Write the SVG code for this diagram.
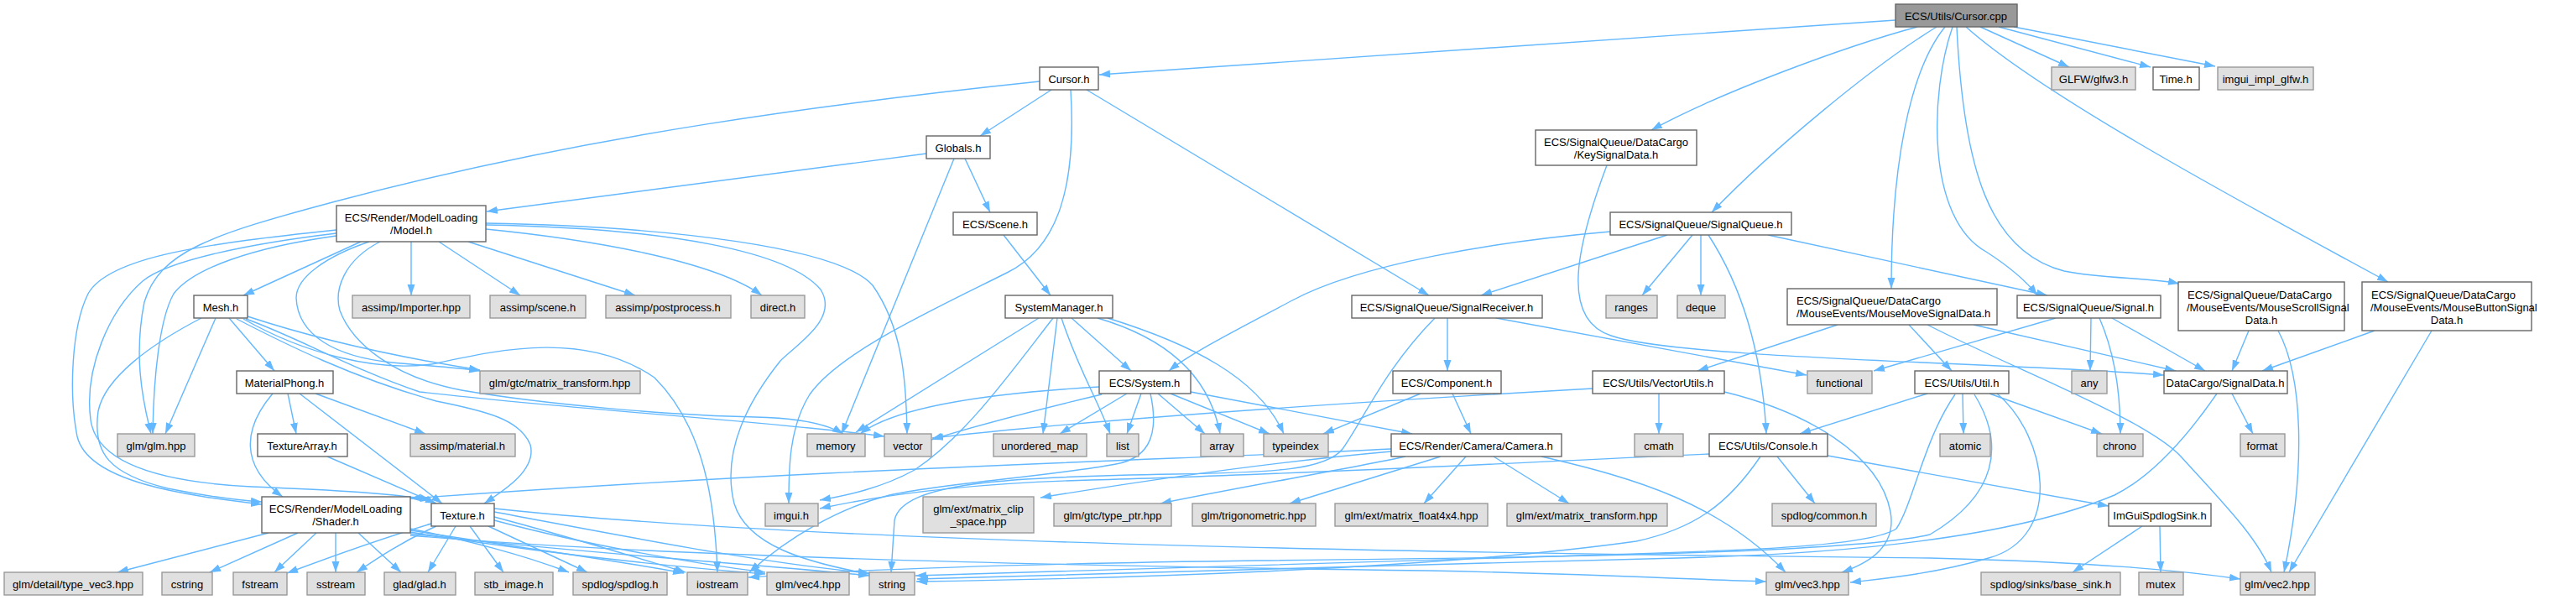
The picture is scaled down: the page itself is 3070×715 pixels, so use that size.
<svg xmlns="http://www.w3.org/2000/svg" width="3070" height="715" viewBox="0 0 3070 715">
<defs>
<marker id="ah" markerWidth="14" markerHeight="10" refX="13" refY="4.5" orient="auto" markerUnits="userSpaceOnUse"><path d="M0,0 L13,4.5 L0,9 z" fill="#63b8ff"/></marker>
</defs>
<style>
.e{fill:none;stroke:#63b8ff;stroke-width:1.4;marker-end:url(#ah)}
.w{fill:#ffffff;stroke:#666666;stroke-width:1.4}
.g{fill:#e0e0e0;stroke:#999999;stroke-width:1.4}
.d{fill:#999999;stroke:#666666;stroke-width:1.4}
text{font-family:"Liberation Sans",Arial,sans-serif;font-size:13px;fill:#000;text-anchor:middle}
.l{text-anchor:start}
</style>
<rect x="0" y="0" width="3070" height="715" fill="#ffffff"/>
<g id="edges">
<path class="e" d="M2259,24 L1310,89"/>
<path class="e" d="M2285,32 C2200,55 2050,110 1968,155"/>
<path class="e" d="M2308,32 C2230,80 2110,180 2040,253"/>
<path class="e" d="M2318,32 C2275,85 2254,200 2254,344"/>
<path class="e" d="M2327,32 C2300,110 2295,260 2367,300 C2395,318 2415,335 2428,352"/>
<path class="e" d="M2332,32 C2340,200 2370,300 2460,323 C2510,333 2560,330 2597,338"/>
<path class="e" d="M2343,32 C2430,110 2650,230 2846,336"/>
<path class="e" d="M2360,32 L2466,80"/>
<path class="e" d="M2382,32 L2563,80"/>
<path class="e" d="M2400,32 L2640,79"/>
<path class="e" d="M1253,107 L1168,162"/>
<path class="e" d="M1295,107 L1703,352"/>
<path class="e" d="M1276,107 C1283,220 1262,295 1200,325 C1110,370 1000,420 965,470 C940,510 940,560 940,600"/>
<path class="e" d="M1239,97 C1000,122 700,160 400,240 C250,280 190,300 172,360 C160,420 168,470 180,517"/>
<path class="e" d="M1104,183 L580,252"/>
<path class="e" d="M1137,189 L1003,517"/>
<path class="e" d="M1150,189 L1180,253"/>
<path class="e" d="M1196,280 L1252,352"/>
<path class="e" d="M1915,197 C1880,290 1858,380 1920,400 C2000,428 2400,432 2579,447"/>
<path class="e" d="M1987,280 L1765,352"/>
<path class="e" d="M2017,280 L1957,352"/>
<path class="e" d="M2027,280 L2027,352"/>
<path class="e" d="M2036,280 C2075,340 2100,420 2105,517"/>
<path class="e" d="M2107,280 L2440,352"/>
<path class="e" d="M1919,276 C1780,288 1620,315 1540,358 C1480,390 1420,420 1393,442"/>
<path class="e" d="M1725,379 L1725,442"/>
<path class="e" d="M1783,379 L2153,447"/>
<path class="e" d="M1710,379 C1650,440 1625,500 1600,535 C1580,560 1520,563 1400,565 C1200,568 1075,575 1066,620 L1062,682"/>
<path class="e" d="M2450,379 L2233,442"/>
<path class="e" d="M2492,379 L2491,442"/>
<path class="e" d="M2502,379 C2520,420 2527,470 2527,517"/>
<path class="e" d="M2517,379 L2628,442"/>
<path class="e" d="M2190,387 L2023,442"/>
<path class="e" d="M2275,387 L2326,442"/>
<path class="e" d="M2352,387 L2593,442"/>
<path class="e" d="M2297,387 C2400,440 2560,500 2600,545 C2650,600 2690,640 2707,682"/>
<path class="e" d="M2680,394 L2660,442"/>
<path class="e" d="M2715,394 C2745,450 2748,560 2722,682"/>
<path class="e" d="M2830,394 L2696,442"/>
<path class="e" d="M2898,394 L2728,682"/>
<path class="e" d="M430,288 L290,352"/>
<path class="e" d="M490,288 L490,352"/>
<path class="e" d="M523,288 L620,352"/>
<path class="e" d="M558,288 L757,352"/>
<path class="e" d="M579,273 C700,285 850,310 908,352"/>
<path class="e" d="M579,268 C800,272 940,300 978,345 C1000,380 950,410 930,430 C890,480 860,540 875,600 C890,650 960,670 1036,684"/>
<path class="e" d="M579,266 C800,270 1000,295 1040,340 C1075,390 1080,450 1081,517"/>
<path class="e" d="M401,274 C250,290 130,305 105,350 C85,390 82,470 92,520 C105,575 220,590 312,601"/>
<path class="e" d="M401,278 C300,290 200,310 170,335 C130,370 100,440 108,500 C115,555 200,575 300,580 C400,584 470,588 514,596"/>
<path class="e" d="M401,281 C300,295 230,320 207,350 C190,380 183,450 182,517"/>
<path class="e" d="M440,288 C390,305 353,330 353,355 C355,400 400,425 467,432 C510,436 545,438 572,442"/>
<path class="e" d="M453,288 C410,310 398,345 405,370 C420,410 470,450 550,465 C650,482 800,495 900,497 C950,498 985,505 1005,517"/>
<path class="e" d="M257,379 L197,517"/>
<path class="e" d="M273,379 L327,442"/>
<path class="e" d="M240,379 C180,410 125,450 117,490 C110,540 130,565 200,582 C240,590 280,596 312,598"/>
<path class="e" d="M295,377 C380,405 470,425 572,441"/>
<path class="e" d="M282,380 C340,410 420,450 520,478 C580,490 620,500 632,530 C640,560 600,585 577,600"/>
<path class="e" d="M290,380 C360,420 450,445 520,433 C600,415 700,395 780,450 C840,510 852,600 855,682"/>
<path class="e" d="M293,380 C350,400 420,440 500,467 C700,490 900,500 1054,520"/>
<path class="e" d="M343,469 L353,517"/>
<path class="e" d="M376,469 L507,517"/>
<path class="e" d="M325,469 C290,510 285,555 337,592"/>
<path class="e" d="M357,469 L527,600"/>
<path class="e" d="M390,544 L520,600"/>
<path class="e" d="M1310,461 C1150,470 1060,490 1025,517"/>
<path class="e" d="M1313,470 C1250,485 1170,505 1110,524"/>
<path class="e" d="M1343,469 L1263,517"/>
<path class="e" d="M1360,469 L1343,517"/>
<path class="e" d="M1380,469 L1436,517"/>
<path class="e" d="M1395,469 L1513,517"/>
<path class="e" d="M1419,467 L1683,517"/>
<path class="e" d="M1371,469 C1380,510 1375,545 1330,553 C1250,568 1130,575 1060,590 C1000,605 940,640 893,682"/>
<path class="e" d="M1238,379 L1020,515"/>
<path class="e" d="M1255,379 C1200,450 1150,520 1090,560 C1050,582 1010,590 977,596"/>
<path class="e" d="M1260,379 L1243,517"/>
<path class="e" d="M1265,379 C1285,440 1310,480 1323,517"/>
<path class="e" d="M1277,379 L1348,442"/>
<path class="e" d="M1308,379 C1380,400 1440,440 1454,517"/>
<path class="e" d="M1320,379 C1420,410 1500,450 1530,517"/>
<path class="e" d="M1693,469 L1577,517"/>
<path class="e" d="M1731,469 L1753,517"/>
<path class="e" d="M1658,538 C1500,552 1350,575 1240,593"/>
<path class="e" d="M1675,544 C1600,560 1480,580 1383,600"/>
<path class="e" d="M1717,544 L1537,600"/>
<path class="e" d="M1747,544 L1697,600"/>
<path class="e" d="M1780,544 L1870,600"/>
<path class="e" d="M1837,544 C1950,570 2050,600 2128,682"/>
<path class="e" d="M1658,535 C1400,548 1000,557 489,594"/>
<path class="e" d="M2037,541 C1800,552 1500,567 1300,572 C1150,576 1050,590 977,606"/>
<path class="e" d="M2118,544 L2163,600"/>
<path class="e" d="M2178,543 L2513,603"/>
<path class="e" d="M2098,544 C2060,600 2020,630 1950,645 C1700,680 1300,690 1092,693"/>
<path class="e" d="M1898,463 C1600,480 1300,500 1111,522"/>
<path class="e" d="M1977,469 L1977,517"/>
<path class="e" d="M2055,467 C2150,490 2240,540 2253,610 C2260,650 2230,670 2195,682"/>
<path class="e" d="M2297,469 L2145,517"/>
<path class="e" d="M2339,469 L2340,517"/>
<path class="e" d="M2371,469 L2505,517"/>
<path class="e" d="M2380,469 C2440,520 2460,640 2370,665 C2300,685 2240,690 2205,694"/>
<path class="e" d="M2330,470 C2293,523 2280,600 2260,630 C2230,650 2100,655 1950,660 C1600,670 1300,680 1091,686"/>
<path class="e" d="M2353,470 C2390,530 2380,590 2300,637 C2200,660 1800,665 1500,668 C1200,672 1000,680 892,688"/>
<path class="e" d="M2660,469 L2685,517"/>
<path class="e" d="M2642,469 C2600,530 2560,570 2520,590 C2400,640 2200,660 2000,665 C1700,672 1300,685 1093,690"/>
<path class="e" d="M2574,627 L2575,682"/>
<path class="e" d="M2553,627 L2470,682"/>
<path class="e" d="M320,635 L140,682"/>
<path class="e" d="M355,635 L250,682"/>
<path class="e" d="M377,635 L327,682"/>
<path class="e" d="M400,635 L400,682"/>
<path class="e" d="M427,635 L478,682"/>
<path class="e" d="M489,630 C560,645 620,660 678,682"/>
<path class="e" d="M489,632 C600,650 720,665 815,683"/>
<path class="e" d="M489,634 C650,660 800,675 912,684"/>
<path class="e" d="M489,636 C700,660 900,672 1036,686"/>
<path class="e" d="M489,638 C800,665 1300,675 1700,680 C1900,684 2000,690 2105,693"/>
<path class="e" d="M543,627 L510,682"/>
<path class="e" d="M560,627 L600,682"/>
<path class="e" d="M582,627 L700,682"/>
<path class="e" d="M514,624 C460,640 390,665 342,683"/>
<path class="e" d="M520,627 C480,645 450,665 425,682"/>
<path class="e" d="M589,616 C680,640 760,665 817,682"/>
<path class="e" d="M589,610 C750,640 900,670 1036,683"/>
<path class="e" d="M589,606 C1000,650 1800,660 2300,665 C2500,670 2600,680 2670,690"/>
<path class="e" d="M589,620 C700,650 830,672 912,682"/>
</g>
<g id="n_cpp"><rect class="d" x="2259" y="5" width="145" height="27"/><text x="2331" y="24">ECS/Utils/Cursor.cpp</text></g>
<g id="n_cursorh"><rect class="w" x="1239" y="80" width="70" height="27"/><text x="1274" y="99">Cursor.h</text></g>
<g id="n_glfw"><rect class="g" x="2445" y="80" width="100" height="27"/><text x="2495" y="99">GLFW/glfw3.h</text></g>
<g id="n_time"><rect class="w" x="2566" y="80" width="55" height="27"/><text x="2593" y="99">Time.h</text></g>
<g id="n_imguiimpl"><rect class="g" x="2643" y="80" width="114" height="27"/><text x="2700" y="99">imgui_impl_glfw.h</text></g>
<g id="n_globals"><rect class="w" x="1104" y="162" width="76" height="27"/><text x="1142" y="181">Globals.h</text></g>
<g id="n_keysig"><rect class="w" x="1830" y="155" width="192" height="42"/><text x="1926" y="174">ECS/SignalQueue/DataCargo</text><text x="1926" y="189">/KeySignalData.h</text></g>
<g id="n_model"><rect class="w" x="401" y="245" width="178" height="43"/><text x="490" y="264">ECS/Render/ModelLoading</text><text x="490" y="279">/Model.h</text></g>
<g id="n_scene"><rect class="w" x="1136" y="253" width="100" height="27"/><text x="1186" y="272">ECS/Scene.h</text></g>
<g id="n_sigqueue"><rect class="w" x="1919" y="253" width="216" height="27"/><text x="2027" y="272">ECS/SignalQueue/SignalQueue.h</text></g>
<g id="n_mesh"><rect class="w" x="231" y="352" width="64" height="27"/><text x="263" y="371">Mesh.h</text></g>
<g id="n_importer"><rect class="g" x="420" y="352" width="140" height="27"/><text x="490" y="371">assimp/Importer.hpp</text></g>
<g id="n_ascene"><rect class="g" x="584" y="352" width="114" height="27"/><text x="641" y="371">assimp/scene.h</text></g>
<g id="n_postproc"><rect class="g" x="722" y="352" width="149" height="27"/><text x="796" y="371">assimp/postprocess.h</text></g>
<g id="n_direct"><rect class="g" x="895" y="352" width="64" height="27"/><text x="927" y="371">direct.h</text></g>
<g id="n_sysmgr"><rect class="w" x="1198" y="352" width="128" height="27"/><text x="1262" y="371">SystemManager.h</text></g>
<g id="n_sigrecv"><rect class="w" x="1611" y="352" width="227" height="27"/><text x="1724" y="371">ECS/SignalQueue/SignalReceiver.h</text></g>
<g id="n_ranges"><rect class="g" x="1914" y="352" width="61" height="27"/><text x="1944" y="371">ranges</text></g>
<g id="n_deque"><rect class="g" x="1999" y="352" width="57" height="27"/><text x="2027" y="371">deque</text></g>
<g id="n_mousemove"><rect class="w" x="2130" y="344" width="250" height="43"/><text class="l" x="2141" y="363">ECS/SignalQueue/DataCargo</text><text class="l" x="2141" y="378">/MouseEvents/MouseMoveSignalData.h</text></g>
<g id="n_signal"><rect class="w" x="2404" y="352" width="171" height="27"/><text x="2489" y="371">ECS/SignalQueue/Signal.h</text></g>
<g id="n_mousescroll"><rect class="w" x="2596" y="336" width="198" height="58"/><text class="l" x="2607" y="356">ECS/SignalQueue/DataCargo</text><text class="l" x="2606" y="371">/MouseEvents/MouseScrollSignal</text><text x="2695" y="386">Data.h</text></g>
<g id="n_mousebutton"><rect class="w" x="2815" y="336" width="202" height="58"/><text class="l" x="2826" y="356">ECS/SignalQueue/DataCargo</text><text class="l" x="2825" y="371">/MouseEvents/MouseButtonSignal</text><text x="2916" y="386">Data.h</text></g>
<g id="n_material"><rect class="w" x="282" y="442" width="115" height="27"/><text x="339" y="461">MaterialPhong.h</text></g>
<g id="n_gtcmat"><rect class="g" x="572" y="442" width="191" height="27"/><text x="667" y="461">glm/gtc/matrix_transform.hpp</text></g>
<g id="n_system"><rect class="w" x="1310" y="442" width="109" height="27"/><text x="1364" y="461">ECS/System.h</text></g>
<g id="n_component"><rect class="w" x="1660" y="442" width="129" height="27"/><text x="1724" y="461">ECS/Component.h</text></g>
<g id="n_vecutils"><rect class="w" x="1898" y="442" width="157" height="27"/><text x="1976" y="461">ECS/Utils/VectorUtils.h</text></g>
<g id="n_functional"><rect class="g" x="2154" y="442" width="77" height="27"/><text x="2192" y="461">functional</text></g>
<g id="n_util"><rect class="w" x="2282" y="442" width="112" height="27"/><text x="2338" y="461">ECS/Utils/Util.h</text></g>
<g id="n_any"><rect class="g" x="2469" y="442" width="42" height="27"/><text x="2490" y="461">any</text></g>
<g id="n_sigdata"><rect class="w" x="2579" y="442" width="147" height="27"/><text x="2652" y="461">DataCargo/SignalData.h</text></g>
<g id="n_glmhpp"><rect class="g" x="140" y="517" width="92" height="27"/><text x="186" y="536">glm/glm.hpp</text></g>
<g id="n_texarray"><rect class="w" x="307" y="517" width="107" height="27"/><text x="360" y="536">TextureArray.h</text></g>
<g id="n_assmat"><rect class="g" x="489" y="517" width="125" height="27"/><text x="551" y="536">assimp/material.h</text></g>
<g id="n_memory"><rect class="g" x="962" y="517" width="69" height="27"/><text x="996" y="536">memory</text></g>
<g id="n_vector"><rect class="g" x="1054" y="517" width="56" height="27"/><text x="1082" y="536">vector</text></g>
<g id="n_umap"><rect class="g" x="1184" y="517" width="111" height="27"/><text x="1239" y="536">unordered_map</text></g>
<g id="n_list"><rect class="g" x="1319" y="517" width="38" height="27"/><text x="1338" y="536">list</text></g>
<g id="n_array"><rect class="g" x="1431" y="517" width="51" height="27"/><text x="1456" y="536">array</text></g>
<g id="n_typeindex"><rect class="g" x="1506" y="517" width="77" height="27"/><text x="1544" y="536">typeindex</text></g>
<g id="n_camera"><rect class="w" x="1658" y="517" width="203" height="27"/><text x="1759" y="536">ECS/Render/Camera/Camera.h</text></g>
<g id="n_cmath"><rect class="g" x="1948" y="517" width="58" height="27"/><text x="1977" y="536">cmath</text></g>
<g id="n_console"><rect class="w" x="2037" y="517" width="141" height="27"/><text x="2107" y="536">ECS/Utils/Console.h</text></g>
<g id="n_atomic"><rect class="g" x="2312" y="517" width="60" height="27"/><text x="2342" y="536">atomic</text></g>
<g id="n_chrono"><rect class="g" x="2499" y="517" width="55" height="27"/><text x="2526" y="536">chrono</text></g>
<g id="n_format"><rect class="g" x="2670" y="517" width="53" height="27"/><text x="2696" y="536">format</text></g>
<g id="n_shader"><rect class="w" x="312" y="592" width="177" height="43"/><text x="400" y="611">ECS/Render/ModelLoading</text><text x="400" y="626">/Shader.h</text></g>
<g id="n_texture"><rect class="w" x="514" y="600" width="75" height="27"/><text x="551" y="619">Texture.h</text></g>
<g id="n_imgui"><rect class="g" x="912" y="600" width="63" height="27"/><text x="943" y="619">imgui.h</text></g>
<g id="n_clipspace"><rect class="g" x="1100" y="592" width="132" height="43"/><text x="1166" y="611">glm/ext/matrix_clip</text><text x="1166" y="626">_space.hpp</text></g>
<g id="n_typeptr"><rect class="g" x="1256" y="600" width="140" height="27"/><text x="1326" y="619">glm/gtc/type_ptr.hpp</text></g>
<g id="n_trig"><rect class="g" x="1421" y="600" width="147" height="27"/><text x="1494" y="619">glm/trigonometric.hpp</text></g>
<g id="n_float4x4"><rect class="g" x="1591" y="600" width="182" height="27"/><text x="1682" y="619">glm/ext/matrix_float4x4.hpp</text></g>
<g id="n_exttransform"><rect class="g" x="1796" y="600" width="191" height="27"/><text x="1891" y="619">glm/ext/matrix_transform.hpp</text></g>
<g id="n_spdcommon"><rect class="g" x="2112" y="600" width="124" height="27"/><text x="2174" y="619">spdlog/common.h</text></g>
<g id="n_imguisink"><rect class="w" x="2513" y="600" width="122" height="27"/><text x="2574" y="619">ImGuiSpdlogSink.h</text></g>
<g id="n_typevec3"><rect class="g" x="5" y="682" width="165" height="27"/><text x="87" y="701">glm/detail/type_vec3.hpp</text></g>
<g id="n_cstring"><rect class="g" x="193" y="682" width="60" height="27"/><text x="223" y="701">cstring</text></g>
<g id="n_fstream"><rect class="g" x="278" y="682" width="64" height="27"/><text x="310" y="701">fstream</text></g>
<g id="n_sstream"><rect class="g" x="366" y="682" width="69" height="27"/><text x="400" y="701">sstream</text></g>
<g id="n_glad"><rect class="g" x="458" y="682" width="85" height="27"/><text x="500" y="701">glad/glad.h</text></g>
<g id="n_stb"><rect class="g" x="566" y="682" width="93" height="27"/><text x="612" y="701">stb_image.h</text></g>
<g id="n_spdlog"><rect class="g" x="683" y="682" width="112" height="27"/><text x="739" y="701">spdlog/spdlog.h</text></g>
<g id="n_iostream"><rect class="g" x="819" y="682" width="72" height="27"/><text x="855" y="701">iostream</text></g>
<g id="n_vec4"><rect class="g" x="914" y="682" width="98" height="27"/><text x="963" y="701">glm/vec4.hpp</text></g>
<g id="n_string"><rect class="g" x="1036" y="682" width="54" height="27"/><text x="1063" y="701">string</text></g>
<g id="n_vec3"><rect class="g" x="2105" y="682" width="98" height="27"/><text x="2154" y="701">glm/vec3.hpp</text></g>
<g id="n_basesink"><rect class="g" x="2361" y="682" width="166" height="27"/><text x="2444" y="701">spdlog/sinks/base_sink.h</text></g>
<g id="n_mutex"><rect class="g" x="2549" y="682" width="53" height="27"/><text x="2575" y="701">mutex</text></g>
<g id="n_vec2"><rect class="g" x="2670" y="682" width="89" height="27"/><text x="2714" y="701">glm/vec2.hpp</text></g>
</svg>
